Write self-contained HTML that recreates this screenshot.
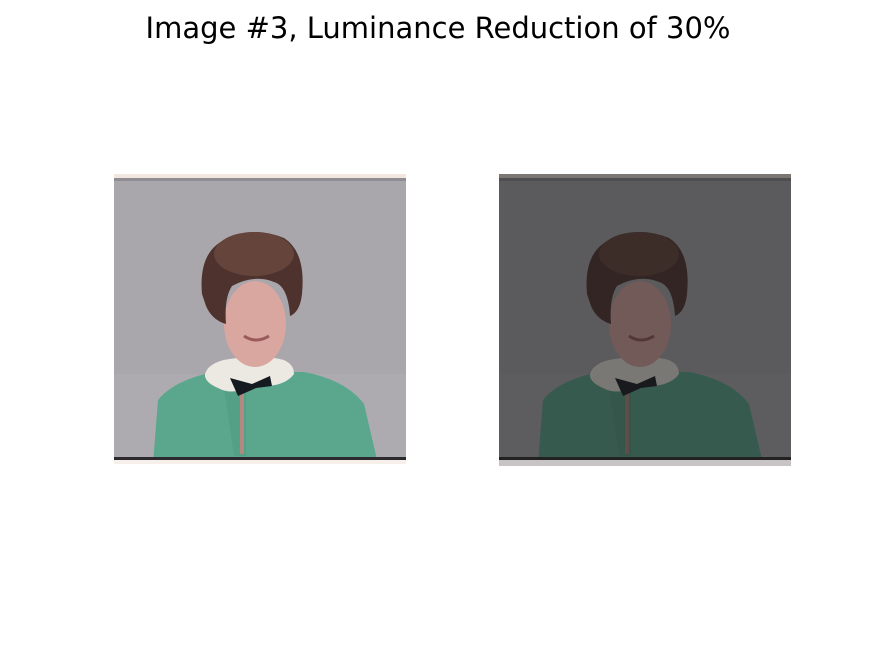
<!DOCTYPE html>
<html><head><meta charset="utf-8"><style>
body{margin:0;background:#fff;width:875px;height:656px;overflow:hidden}
</style></head><body>
<svg width="875" height="656" viewBox="0 0 875 656">
<text x="438" y="38" text-anchor="middle" font-family="'DejaVu Sans','Liberation Sans',sans-serif" font-size="29" fill="#000">Image #3, Luminance Reduction of 30%</text>
<defs>
<g id="portrait">
  <rect x="0" y="0" width="292" height="290" fill="#a9a7ac"/>
  <rect x="0" y="0" width="292" height="4" fill="#f3e6df"/>
  <rect x="0" y="4" width="292" height="3" fill="#8f8d93"/>
  <rect x="0" y="200" width="292" height="85" fill="#adabb0"/>
  <path d="M39,290 L44,226 Q60,206 100,198 L190,198 Q232,206 250,230 L264,290 Z" fill="#5aa78d"/>
  <path d="M108,200 L132,196 L132,282 L120,282 Z" fill="#4d9a80" opacity="0.5"/>
  <rect x="126" y="200" width="4" height="80" fill="#b08a80"/>
  <rect x="126" y="160" width="34" height="40" fill="#d5a29c"/>
  <path d="M91,200 Q95,186 124,184 L160,184 Q180,186 180,200 Q170,214 140,212 Q118,222 104,214 Q90,208 91,200 Z" fill="#ece8e2"/>
  <path d="M116,204 L138,210 L156,202 L158,212 L142,214 L124,222 Z" fill="#141a20"/>
  <ellipse cx="141" cy="150" rx="31" ry="43" fill="#d9a6a0"/>
  <path d="M88,120 Q84,75 115,64 Q140,52 170,64 Q192,78 188,120 Q186,138 176,142 Q174,112 160,108 Q140,100 118,112 Q110,124 112,150 Q98,146 92,132 Z" fill="#4e322d"/>
  <ellipse cx="140" cy="80" rx="40" ry="22" fill="#64443b"/>
  <path d="M130,162 Q142,170 155,162" stroke="#9a5a5a" stroke-width="3" fill="none"/>
  <rect x="0" y="283" width="292" height="3" fill="#2c2a2e"/>
  <rect x="0" y="286" width="292" height="4" fill="#f6efea"/>
</g>
</defs>
<g transform="translate(114,174)"><use href="#portrait"/></g>
<g transform="translate(499,174)">
  <use href="#portrait"/>
  <rect x="0" y="0" width="292" height="286" fill="#1c1c1c" opacity="0.55"/>
  <rect x="0" y="286" width="292" height="6" fill="#c8c4c6"/>
</g>
</svg>
</body></html>
